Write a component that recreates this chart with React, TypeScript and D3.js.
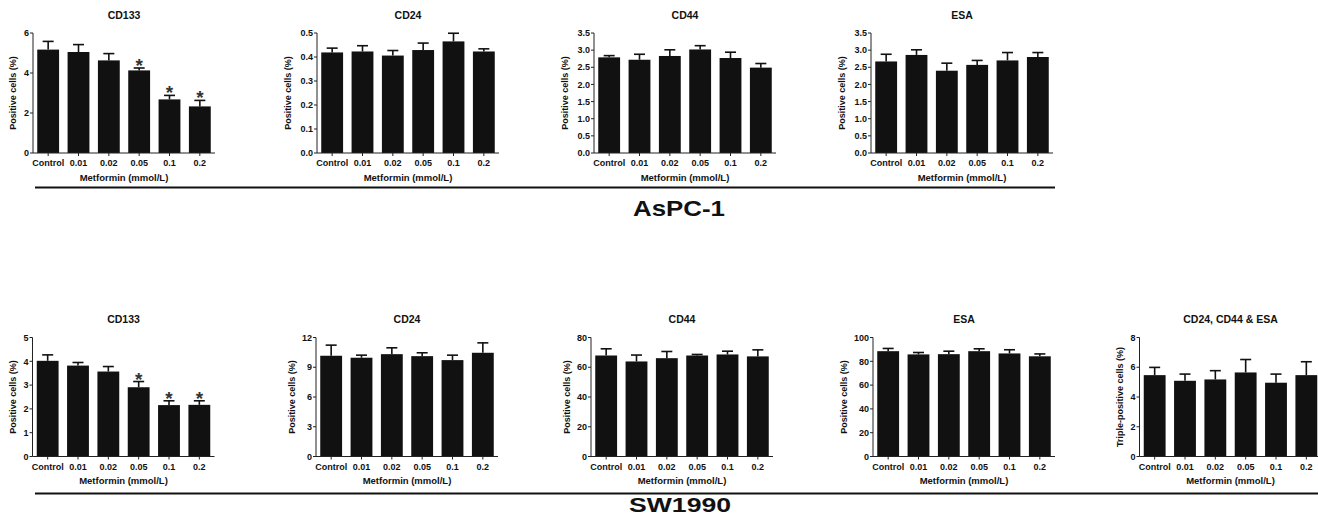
import React from 'react';
import * as d3 from 'd3';

// doses on the x axis
const categories = ['Control', '0.01', '0.02', '0.05', '0.1', '0.2'];

// AsPC-1
const asCd133 = [5.17, 5.05, 4.63, 4.13, 2.68, 2.33];
const asCd133Err = [0.41, 0.37, 0.34, 0.12, 0.2, 0.3];
const asCd133Sig = [false, false, false, true, true, true];
const asCd24 = [0.419, 0.423, 0.406, 0.429, 0.465, 0.423];
const asCd24Err = [0.018, 0.024, 0.021, 0.029, 0.034, 0.011];
const asCd44 = [2.79, 2.72, 2.83, 3.02, 2.77, 2.49];
const asCd44Err = [0.05, 0.16, 0.18, 0.11, 0.17, 0.12];
const asEsa = [2.67, 2.86, 2.4, 2.57, 2.7, 2.8];
const asEsaErr = [0.21, 0.15, 0.22, 0.13, 0.23, 0.13];

// SW1990
const swCd133 = [4.02, 3.82, 3.57, 2.91, 2.16, 2.17];
const swCd133Err = [0.25, 0.13, 0.21, 0.24, 0.18, 0.17];
const swCd133Sig = [false, false, false, true, true, true];
const swCd24 = [10.16, 9.96, 10.32, 10.12, 9.72, 10.46];
const swCd24Err = [1.07, 0.26, 0.64, 0.34, 0.5, 1.0];
const swCd44 = [67.9, 63.9, 66.1, 67.9, 68.6, 67.3];
const swCd44Err = [4.5, 4.3, 4.5, 0.7, 2.2, 4.4];
const swEsa = [88.5, 85.8, 86.0, 88.5, 86.6, 84.2];
const swEsaErr = [2.3, 1.6, 2.5, 2.0, 3.1, 2.0];
const swTriple = [5.47, 5.09, 5.18, 5.65, 4.96, 5.47];
const swTripleErr = [0.52, 0.45, 0.59, 0.87, 0.58, 0.9];

// y tick values
const ticks6 = [0, 2, 4, 6];
const ticks05 = [0, 0.1, 0.2, 0.3, 0.4, 0.5];
const ticks35 = [0, 0.5, 1, 1.5, 2, 2.5, 3, 3.5];
const ticks5 = [0, 1, 2, 3, 4, 5];
const ticks12 = [0, 3, 6, 9, 12];
const ticks80 = [0, 20, 40, 60, 80];
const ticks100 = [0, 20, 40, 60, 80, 100];
const ticks8 = [0, 2, 4, 6, 8];

const FONT = '"Liberation Sans", Arial, sans-serif';
const INK = '#111';

const TOP1 = 33, H1 = 120;
const TOP2 = 337.5, H2 = 119;
const PW = 182;

const panels = [
  { title: 'CD133', x: 33, top: TOP1, h: H1, vals: asCd133, err: asCd133Err, sig: asCd133Sig, ticks: ticks6, dec: 0, ylab: 'Positive cells (%)' },
  { title: 'CD24', x: 317, top: TOP1, h: H1, vals: asCd24, err: asCd24Err, ticks: ticks05, dec: 1, ylab: 'Positive cells (%)' },
  { title: 'CD44', x: 594, top: TOP1, h: H1, vals: asCd44, err: asCd44Err, ticks: ticks35, dec: 1, ylab: 'Positive cells (%)' },
  { title: 'ESA', x: 871, top: TOP1, h: H1, vals: asEsa, err: asEsaErr, ticks: ticks35, dec: 1, ylab: 'Positive cells (%)' },
  { title: 'CD133', x: 32.5, top: TOP2, h: H2, vals: swCd133, err: swCd133Err, sig: swCd133Sig, ticks: ticks5, dec: 0, ylab: 'Positive cells (%)' },
  { title: 'CD24', x: 316, top: TOP2, h: H2, vals: swCd24, err: swCd24Err, ticks: ticks12, dec: 0, ylab: 'Positive cells (%)' },
  { title: 'CD44', x: 591, top: TOP2, h: H2, vals: swCd44, err: swCd44Err, ticks: ticks80, dec: 0, ylab: 'Positive cells (%)' },
  { title: 'ESA', x: 873, top: TOP2, h: H2, vals: swEsa, err: swEsaErr, ticks: ticks100, dec: 0, ylab: 'Positive cells (%)' },
  { title: 'CD24, CD44 & ESA', x: 1139.5, top: TOP2, h: H2, vals: swTriple, err: swTripleErr, ticks: ticks8, dec: 0, ylab: 'Triple-positive cells (%)' },
];

function Panel({ p }: { p: any }) {
  const x = d3.scaleBand().domain(categories).range([p.x, p.x + PW]).paddingInner(0.28).paddingOuter(0.14);
  const ymax = p.ticks[p.ticks.length - 1];
  const y = d3.scaleLinear().domain([0, ymax]).range([p.top + p.h, p.top]);
  const fmt = (v: number) => v.toFixed(p.dec);
  const longest = d3.max(p.ticks, (t: number) => fmt(t).length) as number;
  const labOff = 12 + longest * 4.6;
  const bw = x.bandwidth();
  const base = y(0);
  return (
    <g>
      <text x={p.x + PW / 2} y={p.top - 14.5} textAnchor="middle" fontSize={10.5} fontWeight="bold" fill={INK}>{p.title}</text>
      {categories.map((c, i) => {
        const cx = (x(c) as number) + bw / 2;
        const yt = y(p.vals[i]);
        const ye = y(p.vals[i] + p.err[i]);
        return (
          <g key={c}>
            <rect x={x(c)} y={yt} width={bw} height={base - yt} fill={INK} />
            <line x1={cx} x2={cx} y1={yt} y2={ye} stroke={INK} strokeWidth={1.6} />
            <line x1={cx - 5.5} x2={cx + 5.5} y1={ye} y2={ye} stroke={INK} strokeWidth={1.6} />
            {p.sig && p.sig[i] ? (
              <text x={cx} y={ye + 4} textAnchor="middle" fontSize={19} fontWeight="bold" fill="#333">*</text>
            ) : null}
          </g>
        );
      })}
      {/* y axis */}
      <line x1={p.x} x2={p.x} y1={p.top} y2={base} stroke="#222" strokeWidth={1} />
      {p.ticks.map((t: number) => (
        <g key={t}>
          <line x1={p.x - 3} x2={p.x} y1={y(t)} y2={y(t)} stroke="#222" strokeWidth={1} />
          <text x={p.x - 4} y={y(t) + 3.2} textAnchor="end" fontSize={9} fontWeight="bold" fill={INK}>{fmt(t)}</text>
        </g>
      ))}
      {/* x axis */}
      <line x1={p.x} x2={p.x + PW} y1={base} y2={base} stroke="#222" strokeWidth={1} />
      {categories.map((c) => {
        const cx = (x(c) as number) + bw / 2;
        return (
          <g key={c}>
            <line x1={cx} x2={cx} y1={base} y2={base + 3} stroke="#222" strokeWidth={1} />
            <text x={cx} y={base + 13} textAnchor="middle" fontSize={9} fontWeight="bold" fill={INK}>{c}</text>
          </g>
        );
      })}
      <text x={p.x + PW / 2} y={base + 27.5} textAnchor="middle" fontSize={9.5} fontWeight="bold" fill={INK}>Metformin (mmol/L)</text>
      <text transform={`translate(${p.x - labOff},${(p.top + base) / 2}) rotate(-90)`} textAnchor="middle" fontSize={9} fontWeight="bold" fill={INK}>{p.ylab}</text>
    </g>
  );
}

export default function App() {
  return (
    <svg width={1318} height={526} style={{ position: 'absolute', left: 0, top: 0, background: '#fff' }} fontFamily={FONT}>
      {panels.map((p, i) => <Panel key={i} p={p} />)}
      <line x1={35} x2={1055} y1={187.5} y2={187.5} stroke={INK} strokeWidth={2.2} />
      <text x={679} y={216} textAnchor="middle" fontSize={22} fontWeight="bold" fill={INK} textLength={92} lengthAdjust="spacingAndGlyphs">AsPC-1</text>
      <line x1={35} x2={1318} y1={493.5} y2={493.5} stroke={INK} strokeWidth={2.2} />
      <text x={680} y={512} textAnchor="middle" fontSize={21} fontWeight="bold" fill={INK} textLength={102} lengthAdjust="spacingAndGlyphs">SW1990</text>
    </svg>
  );
}
